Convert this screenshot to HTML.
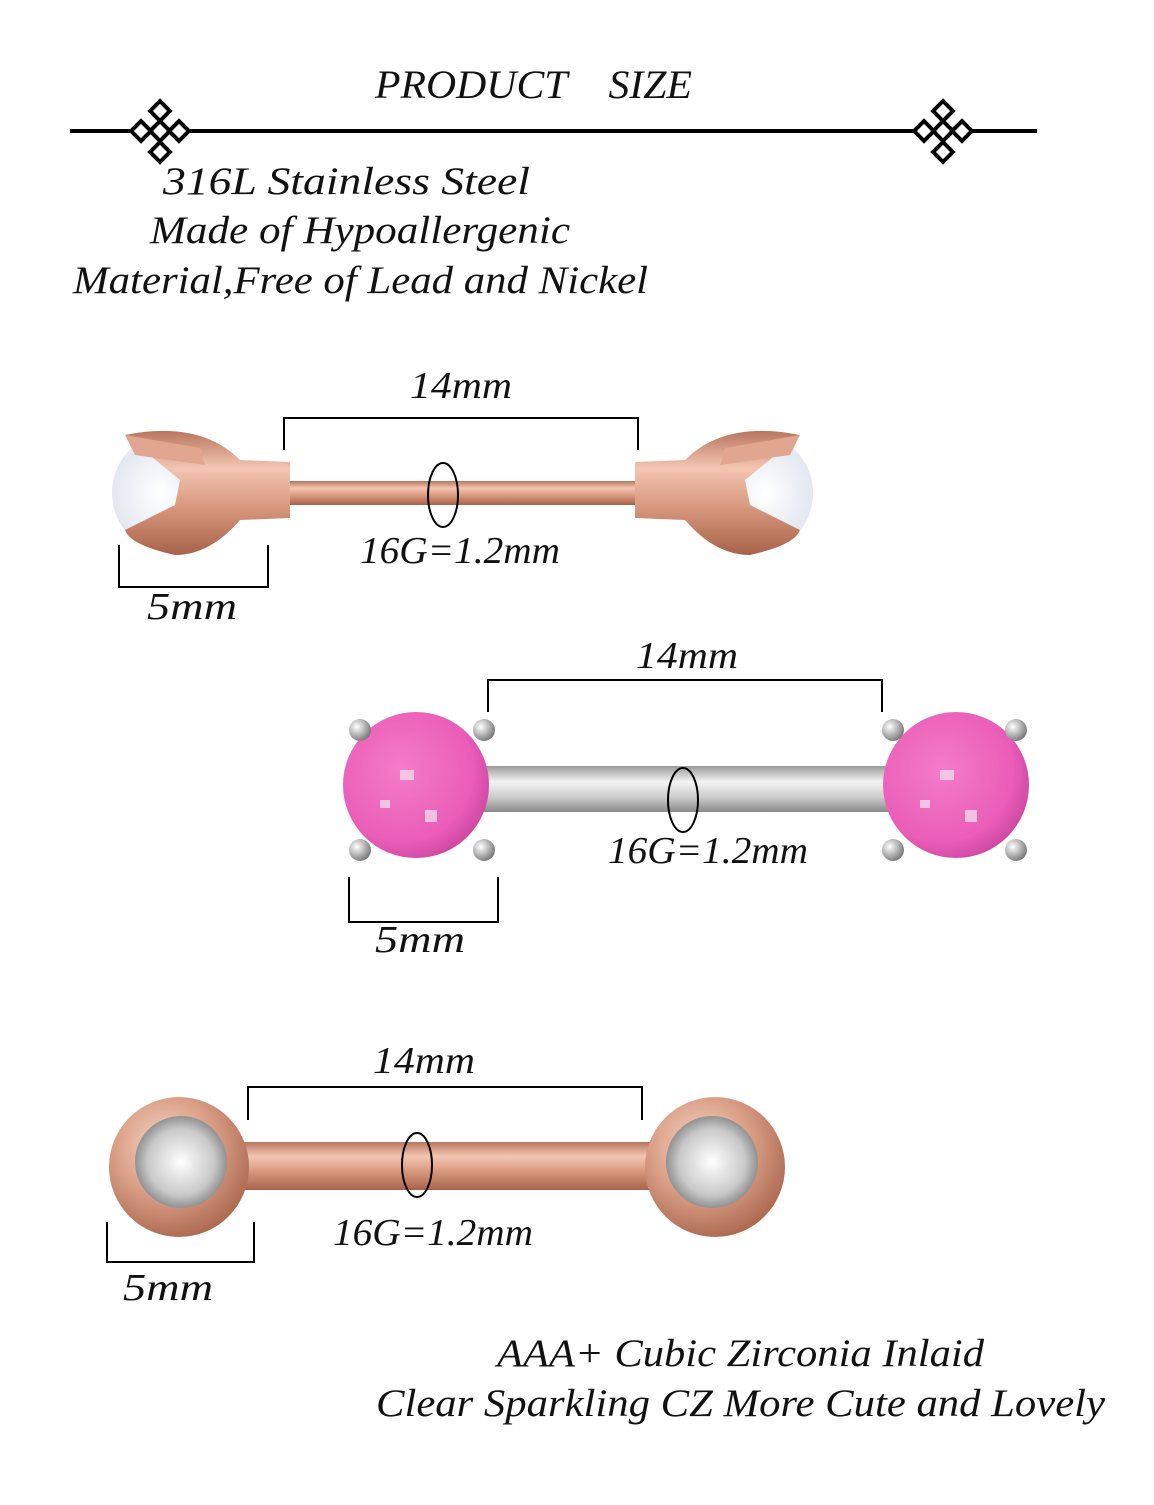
<!DOCTYPE html>
<html><head><meta charset="utf-8"><style>
html,body{margin:0;padding:0;background:#fff;}
svg text{font-family:"Liberation Serif",serif;font-style:italic;fill:#111;}
</style></head><body>
<svg width="1154" height="1500" viewBox="0 0 1154 1500" xmlns="http://www.w3.org/2000/svg">
<defs>
<linearGradient id="rg" x1="0" y1="0" x2="0" y2="1">
<stop offset="0" stop-color="#b8765e"/><stop offset="0.3" stop-color="#f3c6b2"/><stop offset="0.6" stop-color="#d99a80"/><stop offset="1" stop-color="#a8624a"/></linearGradient>
<linearGradient id="sg" x1="0" y1="0" x2="0" y2="1">
<stop offset="0" stop-color="#9a9a9a"/><stop offset="0.35" stop-color="#f4f4f4"/><stop offset="0.7" stop-color="#c8c8c8"/><stop offset="1" stop-color="#8a8a8a"/></linearGradient>
<radialGradient id="rb" cx="0.4" cy="0.35" r="0.7">
<stop offset="0" stop-color="#f8d8c8"/><stop offset="0.5" stop-color="#dba088"/><stop offset="1" stop-color="#a8654c"/></radialGradient>
<radialGradient id="pk" cx="0.4" cy="0.4" r="0.7">
<stop offset="0" stop-color="#f47cc8"/><stop offset="0.7" stop-color="#ea5db8"/><stop offset="1" stop-color="#c2409a"/></radialGradient>
<radialGradient id="gm" cx="0.5" cy="0.5" r="0.6">
<stop offset="0" stop-color="#ffffff"/><stop offset="0.6" stop-color="#c9c9c9"/><stop offset="1" stop-color="#6a6a6a"/></radialGradient>
<radialGradient id="pr" cx="0.5" cy="0.5" r="0.6">
<stop offset="0" stop-color="#ffffff"/><stop offset="1" stop-color="#dde2ec"/></radialGradient>
<radialGradient id="pg" cx="0.35" cy="0.35" r="0.7">
<stop offset="0" stop-color="#fff"/><stop offset="1" stop-color="#777"/></radialGradient>
<g id="orn">
<rect x="-7" y="-7" width="14" height="14" transform="rotate(45)" fill="#fff" stroke="#000" stroke-width="4"/>
<rect x="-7" y="-7" width="14" height="14" transform="translate(-19 0) rotate(45)" fill="#fff" stroke="#000" stroke-width="4"/>
<rect x="-7" y="-7" width="14" height="14" transform="translate(19 0) rotate(45)" fill="#fff" stroke="#000" stroke-width="4"/>
<rect x="-7" y="-7" width="14" height="14" transform="translate(0 -20) rotate(45)" fill="#fff" stroke="#000" stroke-width="4"/>
<rect x="-7" y="-7" width="14" height="14" transform="translate(0 21) rotate(45)" fill="#fff" stroke="#000" stroke-width="4"/>
</g>
</defs>

<text x="375" y="98" font-size="40" textLength="317" lengthAdjust="spacingAndGlyphs" xml:space="preserve">PRODUCT    SIZE</text>
<rect x="70" y="129" width="967" height="4" fill="#000"/>
<use href="#orn" x="160" y="131"/>
<use href="#orn" x="943" y="131"/>

<g font-size="39" lengthAdjust="spacingAndGlyphs">
<text x="163" y="194" textLength="367" lengthAdjust="spacingAndGlyphs">316L Stainless Steel</text>
<text x="150" y="243" textLength="420" lengthAdjust="spacingAndGlyphs">Made of Hypoallergenic</text>
<text x="73" y="293" textLength="575" lengthAdjust="spacingAndGlyphs">Material,Free of Lead and Nickel</text>
</g>

<!-- Barbell 1 -->
<rect x="280" y="481" width="365" height="24" fill="url(#rg)"/>
<g>
<ellipse cx="160" cy="493" rx="48" ry="55" fill="url(#pr)"/>
<path d="M125 435 Q200 420 240 460 L290 462 L290 518 L240 520 Q210 555 175 555 Q130 545 125 530 L175 505 L180 480 Z" fill="url(#rg)"/>
<path d="M125 435 L200 448 L205 465 L135 455 Z" fill="#e0a690"/>
</g>
<g transform="translate(925 0) scale(-1 1)">
<ellipse cx="160" cy="493" rx="48" ry="55" fill="url(#pr)"/>
<path d="M125 435 Q200 420 240 460 L290 462 L290 518 L240 520 Q210 555 175 555 Q130 545 125 530 L175 505 L180 480 Z" fill="url(#rg)"/>
<path d="M125 435 L200 448 L205 465 L135 455 Z" fill="#e0a690"/>
</g>
<g fill="none" stroke="#000" stroke-width="2">
<polyline points="284,450 284,418 638,418 638,450"/>
<polyline points="119,545 119,587 268,587 268,545"/>
<ellipse cx="443" cy="495" rx="15" ry="32"/>
</g>
<g font-size="38">
<text x="410" y="398" textLength="102" lengthAdjust="spacingAndGlyphs">14mm</text>
<text x="360" y="563" textLength="200" lengthAdjust="spacingAndGlyphs">16G=1.2mm</text>
<text x="147" y="619" textLength="90" lengthAdjust="spacingAndGlyphs">5mm</text>
</g>

<!-- Barbell 2 -->
<rect x="480" y="766" width="410" height="46" fill="url(#sg)"/>
<g>
<circle cx="416" cy="785" r="73" fill="url(#pk)"/>
<circle cx="360" cy="730" r="11" fill="url(#pg)"/><circle cx="484" cy="730" r="11" fill="url(#pg)"/>
<circle cx="360" cy="850" r="11" fill="url(#pg)"/><circle cx="484" cy="850" r="11" fill="url(#pg)"/>
<circle cx="956" cy="785" r="73" fill="url(#pk)"/>
<circle cx="893" cy="730" r="11" fill="url(#pg)"/><circle cx="1016" cy="730" r="11" fill="url(#pg)"/>
<circle cx="893" cy="850" r="11" fill="url(#pg)"/><circle cx="1016" cy="850" r="11" fill="url(#pg)"/>
<g fill="#f3d9ec" opacity="0.8">
<rect x="400" y="770" width="14" height="10"/><rect x="425" y="810" width="12" height="12"/><rect x="380" y="800" width="10" height="8"/>
<rect x="940" y="770" width="14" height="10"/><rect x="965" y="810" width="12" height="12"/><rect x="920" y="800" width="10" height="8"/>
</g>
</g>
<g fill="none" stroke="#000" stroke-width="2">
<polyline points="488,712 488,680 882,680 882,712"/>
<polyline points="349,877 349,922 498,922 498,877"/>
<ellipse cx="683" cy="800" rx="15" ry="32"/>
</g>
<g font-size="38">
<text x="636" y="668" textLength="102" lengthAdjust="spacingAndGlyphs">14mm</text>
<text x="608" y="863" textLength="200" lengthAdjust="spacingAndGlyphs">16G=1.2mm</text>
<text x="375" y="952" textLength="90" lengthAdjust="spacingAndGlyphs">5mm</text>
</g>

<!-- Barbell 3 -->
<rect x="240" y="1142" width="430" height="48" fill="url(#rg)"/>
<circle cx="179" cy="1167" r="70" fill="url(#rb)"/>
<circle cx="181" cy="1162" r="46" fill="url(#gm)"/>
<circle cx="715" cy="1167" r="70" fill="url(#rb)"/>
<circle cx="712" cy="1162" r="46" fill="url(#gm)"/>
<g fill="none" stroke="#000" stroke-width="2">
<polyline points="248,1120 248,1087 642,1087 642,1120"/>
<polyline points="107,1222 107,1262 254,1262 254,1222"/>
<ellipse cx="417" cy="1165" rx="15" ry="32"/>
</g>
<g font-size="38">
<text x="373" y="1073" textLength="102" lengthAdjust="spacingAndGlyphs">14mm</text>
<text x="333" y="1245" textLength="200" lengthAdjust="spacingAndGlyphs">16G=1.2mm</text>
<text x="123" y="1300" textLength="90" lengthAdjust="spacingAndGlyphs">5mm</text>
</g>

<g font-size="39">
<text x="497" y="1366" textLength="487" lengthAdjust="spacingAndGlyphs">AAA+ Cubic Zirconia Inlaid</text>
<text x="376" y="1416" textLength="729" lengthAdjust="spacingAndGlyphs">Clear Sparkling CZ More Cute and Lovely</text>
</g>
</svg>
</body></html>
